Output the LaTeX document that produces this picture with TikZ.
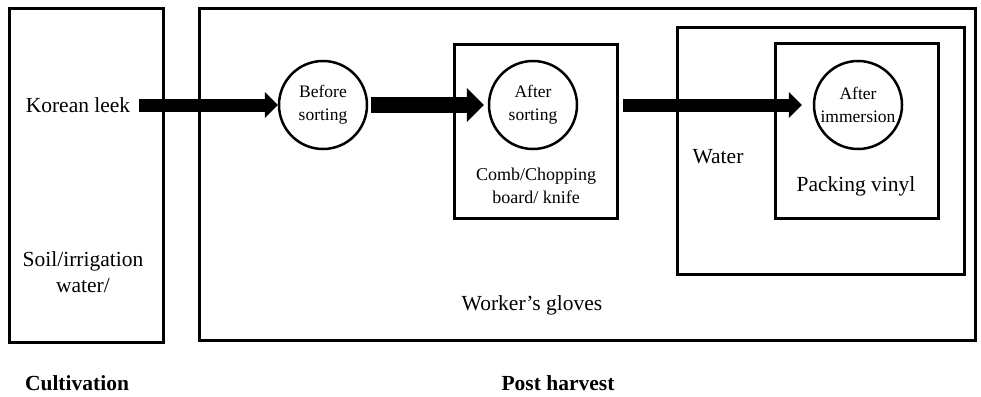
\documentclass[tikz,border=0pt]{standalone}
\usepackage{fontspec}
\setmainfont{Liberation Serif}
\usetikzlibrary{arrows.meta, positioning}
\newcommand{\lblsize}{\fontsize{21.5}{26}\selectfont}
\newcommand{\spotsize}{\fontsize{17.5}{23}\selectfont}

\begin{document}
\begin{tikzpicture}[
      x=1pt, y=-1pt,
      stage/.style={draw, line width=3pt, inner sep=0pt},
      spot/.style={draw, circle, line width=2.5pt, minimum size=88pt,
                   inner sep=0pt, align=center, font=\spotsize},
      lbl/.style={align=center, font=\lblsize, inner sep=0pt},
      head/.style={align=center, font=\lblsize\bfseries, inner sep=0pt},
      flow/.style={line width=13pt,
                   -{Triangle[length=13pt, width=26pt, line width=0pt]}},
      flowthick/.style={line width=16pt,
                   -{Triangle[length=17pt, width=34pt, line width=0pt]}},
    ]
    \useasboundingbox (0,0) rectangle (981,396);

    % frames
    \node[stage, minimum width=154pt, minimum height=333pt] (field) at (86,175.5) {};
    \node[stage, minimum width=776pt, minimum height=331pt] (post)  at (587,174.5) {};
    \node[stage, minimum width=163pt, minimum height=173pt] (tools) at (535.5,131.5) {};
    \node[stage, minimum width=287pt, minimum height=246pt] (wash)  at (820.5,151) {};
    \node[stage, minimum width=163pt, minimum height=174pt] (vinyl) at (856.5,131) {};

    % sampling points
    \node[spot] (before)   at (323,105) {Before\\sorting};
    \node[spot] (sorted)   at (533,105) {After\\sorting};
    \node[spot] (immersed) at (858,105) {After\\immersion};

    % labels
    \node[lbl] (leek)   at (78,105)  {Korean leek};
    \node[lbl] (soil)   at (83,272)  {Soil/irrigation\\water/};
    \node[lbl, font=\fontsize{18}{23}\selectfont] (comb) at (536,186) {Comb/Chopping\\board/ knife};
    \node[lbl] (water)  at (718,157) {Water};
    \node[lbl] (pack)   at (856,186) {Packing vinyl};
    \node[lbl] (gloves) at (532,305) {Worker’s gloves};
    \node[head] (cult)    at (77,383)  {Cultivation};
    \node[head] (harvest) at (558,383) {Post harvest};

    \draw[flow]      ([xshift=9pt]leek.east) -- (before.west);
    \draw[flowthick] ([xshift=3pt]before.east) -- ([xshift=-4pt]sorted.west);
    \draw[flow]      ([xshift=4pt]tools.east |- immersed.west) -- ([xshift=-11pt]immersed.west);
  \end{tikzpicture}
\end{document}
